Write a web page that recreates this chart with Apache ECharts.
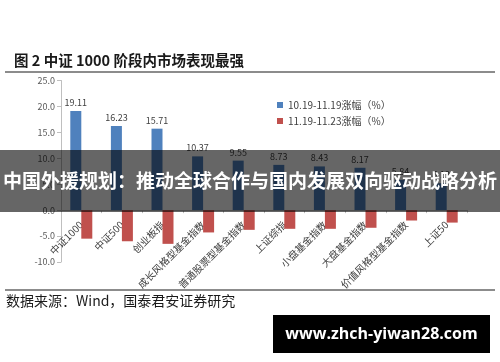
<!DOCTYPE html>
<html><head><meta charset="utf-8">
<script src="https://cdn.jsdelivr.net/npm/echarts@6/dist/echarts.min.js"></script>
<style>html,body{margin:0;padding:0;background:#fff}#c{width:500px;height:362px}</style>
</head><body><div id="c"></div>
<script>
const categories = ['中证1000','中证500','创业板指','成长风格型基金指数','普通股票型基金指数','上证综指','小盘基金指数','大盘基金指数','价值风格型基金指数','上证50'];
const seriesNames = ['10.19-11.19涨幅（%）','11.19-11.23涨幅（%）'];
const periodA = [19.11,16.23,15.71,10.37,9.55,8.73,8.43,8.17,5.84,5.19];
const periodB = [-5.5,-6.0,-6.5,-4.3,-3.8,-3.6,-3.6,-3.4,-2.0,-2.4];
const yTicks = {min:-10, max:25, interval:5};
const titleText = '图 2 中证 1000 阶段内市场表现最强';
const sourceText = '数据来源：Wind，国泰君安证券研究';
const bannerText = '中国外援规划：推动全球合作与国内发展双向驱动战略分析';
const watermarkText = 'www.zhch-yiwan28.com';

const chart = echarts.init(document.getElementById('c'));
const cjk = '"Noto Sans CJK SC", sans-serif';
chart.setOption({
  animation:false,
  backgroundColor:'#fff',
  textStyle:{fontFamily:cjk},
  grid:{left:61,right:33,top:80.5,bottom:100,containLabel:false},
  legend:{
    orient:'vertical',left:272,top:95,itemWidth:6,itemHeight:6,itemGap:6,
    icon:'rect',
    textStyle:{fontSize:10,color:'#404040',fontFamily:cjk},
    data:seriesNames
  },
  xAxis:{
    type:'category',data:categories,
    axisLine:{onZero:true,lineStyle:{color:'#bfbfbf',width:1}},
    axisTick:{show:true,alignWithLabel:false,length:3,lineStyle:{color:'#bfbfbf'}},
    axisLabel:{rotate:45,fontSize:10,color:'#404040',margin:-39,interval:0,fontFamily:cjk}
  },
  yAxis:{
    type:'value',min:yTicks.min,max:yTicks.max,interval:yTicks.interval,
    axisLine:{show:true,lineStyle:{color:'#bfbfbf'}},
    axisTick:{show:true,length:4,lineStyle:{color:'#bfbfbf'}},
    splitLine:{show:false},
    axisLabel:{fontSize:9,color:'#595959',margin:6,formatter:v=>v.toFixed(1)}
  },
  series:[
    {name:seriesNames[0],type:'bar',data:periodA,barWidth:11,barGap:'0%',
     itemStyle:{color:'#4f81bd'},
     label:{show:true,position:'top',distance:4,fontSize:9,color:'#404040',formatter:p=>p.value.toFixed(2)}},
    {name:seriesNames[1],type:'bar',data:periodB,barWidth:11,barGap:'0%',
     itemStyle:{color:'#c0504d'}}
  ],
  graphic:[
    {type:'text',left:14,top:53,z:50,style:{text:titleText,fontSize:14.5,fontWeight:'bold',fill:'#1a1a1a',fontFamily:cjk}},
    {type:'line',z:50,shape:{x1:5,y1:72,x2:495,y2:72},style:{stroke:'#8c8c8c',lineWidth:2}},
    {type:'rect',z:60,shape:{x:0,y:289,width:500,height:73},style:{fill:'#fff'}},
    {type:'line',z:61,shape:{x1:5,y1:290,x2:495,y2:290},style:{stroke:'#8c8c8c',lineWidth:2}},
    {type:'text',left:6,top:294,z:61,style:{text:sourceText,fontSize:14,fill:'#1a1a1a',fontFamily:cjk}},
    {type:'rect',z:100,shape:{x:0,y:150,width:500,height:62},style:{fill:'rgba(0,0,0,0.6)'}},
    {type:'text',z:101,x:250,y:181,style:{text:bannerText,fontSize:19,fontWeight:'bold',fill:'#fff',align:'center',verticalAlign:'middle',fontFamily:cjk}},
    {type:'rect',z:100,shape:{x:273,y:315,width:217,height:38},style:{fill:'#000'}},
    {type:'text',z:101,x:381.5,y:334,style:{text:watermarkText,fontSize:16,fontWeight:'bold',fill:'#fff',align:'center',verticalAlign:'middle',fontFamily:'"Open Sans", sans-serif'}}
  ]
});
</script></body></html>
